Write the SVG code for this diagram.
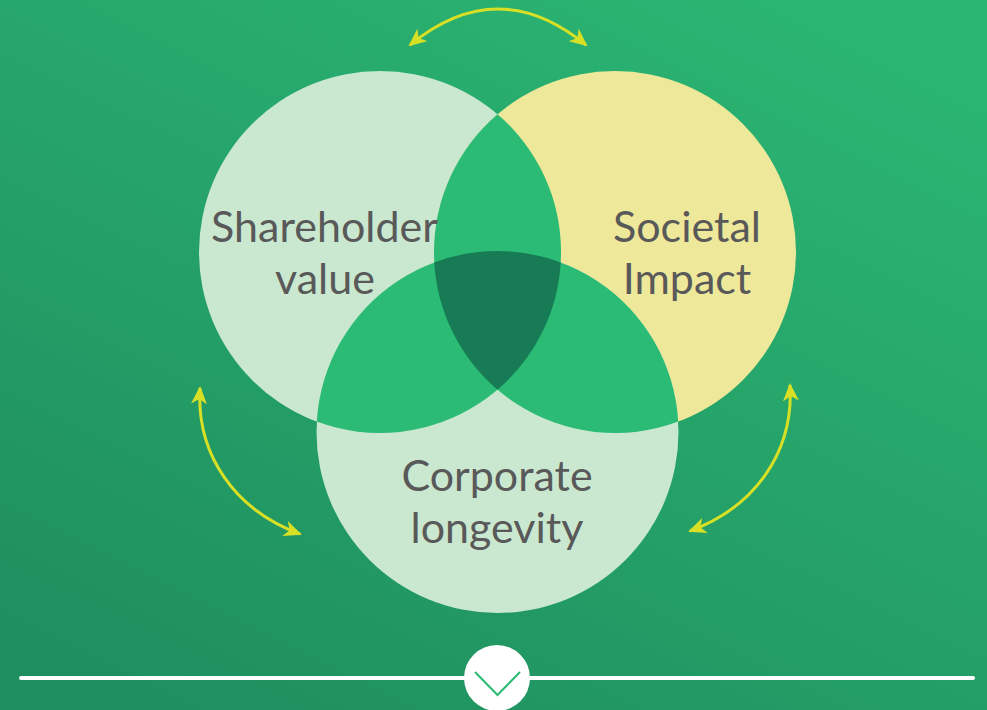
<svg xmlns="http://www.w3.org/2000/svg" width="987" height="710" viewBox="0 0 987 710">
<style>
.lt{font-family:"Lato","Noto Sans","Liberation Sans",sans-serif;font-size:43px;fill:#595959;text-anchor:middle}
.arc{fill:none;stroke:#D8E026;stroke-width:3;marker-start:url(#ah);marker-end:url(#ah)}
.lens{fill:#2BBB74}
</style>
<defs>
<linearGradient id="bg" gradientUnits="userSpaceOnUse" x1="700" y1="-60" x2="290" y2="770">
<stop offset="0" stop-color="#2BB673"/><stop offset="1" stop-color="#1F8F5F"/>
</linearGradient>
<marker id="ah" viewBox="0 0 18 16" refX="16" refY="8" markerUnits="userSpaceOnUse" markerWidth="18" markerHeight="16" orient="auto-start-reverse">
<path d="M0 0L18 8L0 16L5 8Z" fill="#D8E026"/>
</marker>
</defs>
<rect width="987" height="710" fill="url(#bg)"/>
<g id="circle-shareholder"><circle cx="380" cy="252" r="181" fill="#C9E8CF"/></g>
<g id="circle-societal"><circle cx="615" cy="252" r="181" fill="#EEE89A"/></g>
<g id="circle-corporate"><circle cx="497.500" cy="432" r="181" fill="#C9E8CF"/></g>
<g id="overlaps">
<path class="lens" d="M497.5 114.3A181 181 0 0 1 497.5 389.7A181 181 0 0 1 497.5 114.3Z"/>
<path class="lens" d="M560.7 262.4A181 181 0 0 1 316.8 421.6A181 181 0 0 1 560.7 262.4Z"/>
<path class="lens" d="M434.3 262.4A181 181 0 0 0 678.2 421.6A181 181 0 0 0 434.3 262.4Z"/>
<path fill="#177C56" d="M434.3 262.4A181 181 0 0 1 560.7 262.4A181 181 0 0 1 497.5 389.7A181 181 0 0 1 434.3 262.4Z"/>
</g>
<g id="label-shareholder"><text class="lt" x="324.5" y="242">Shareholder</text><text class="lt" x="325" y="294">value</text></g>
<g id="label-societal"><text class="lt" x="687" y="242">Societal</text><text class="lt" x="687" y="294">Impact</text></g>
<g id="label-corporate"><text class="lt" x="497" y="491">Corporate</text><text class="lt" x="497" y="543">longevity</text></g>
<g id="connectors">
<path class="arc" d="M410 45Q498 -27 586 45"/>
<path class="arc" d="M200 388C196 455 235 510 300 534"/>
<path class="arc" d="M790 385C794 452 755 507 690 531"/>
</g>
<g id="footer">
<line x1="21" y1="678" x2="973" y2="678" stroke="#fff" stroke-width="4" stroke-linecap="round"/>
<circle cx="497" cy="678" r="33" fill="#fff"/>
<path d="M475 672L497.500 695L520 672" fill="none" stroke="#2BBB74" stroke-width="2"/>
</g>
</svg>
